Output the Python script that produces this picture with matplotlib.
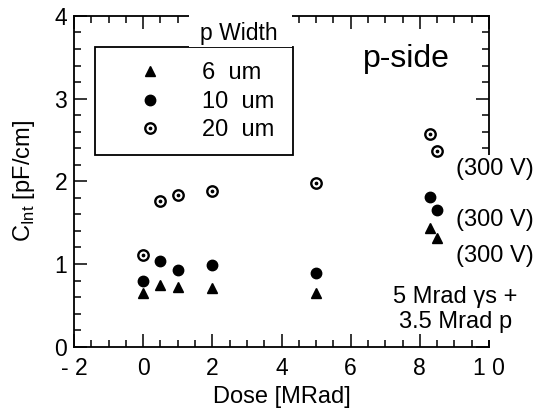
import matplotlib
matplotlib.use("Agg")
import matplotlib.pyplot as plt
from matplotlib.patches import Rectangle
from matplotlib.legend_handler import HandlerTuple
from matplotlib.ticker import MultipleLocator, FixedLocator

plt.rcParams['font.family'] = ['Liberation Sans', 'DejaVu Sans']

# Data
dose_6 = [0.0, 0.5, 1.0, 2.0, 5.0, 8.3, 8.5]
cint_6 = [0.65, 0.75, 0.72, 0.71, 0.645, 1.43, 1.31]
dose_10 = [0.0, 0.5, 1.0, 2.0, 5.0, 8.3, 8.5]
cint_10 = [0.79, 1.04, 0.93, 0.99, 0.895, 1.81, 1.65]
dose_20 = [0.0, 0.5, 1.0, 2.0, 5.0, 8.3, 8.5]
cint_20 = [1.11, 1.76, 1.83, 1.88, 1.98, 2.57, 2.37]

xticks = [-2, 0, 2, 4, 6, 8, 10]
xticklabels = ['- 2', '0', '2', '4', '6', '8', '1 0']
yticks = [0, 1, 2, 3, 4]
yticklabels = ['0', '1', '2', '3', '4']

fig = plt.figure(figsize=(5.38, 4.09), dpi=100)
ax = fig.add_axes([74/538, 1-346.7/409, 415/538, 330.8/409])

ms = 7.5
h6, = ax.plot(dose_6, cint_6, linestyle='none', marker='^', color='black', markersize=ms, zorder=3)
h10, = ax.plot(dose_10, cint_10, linestyle='none', marker='o', color='black', markersize=ms, zorder=3)
h20o, = ax.plot(dose_20, cint_20, linestyle='none', marker='o', markerfacecolor='white',
                markeredgecolor='black', markeredgewidth=1.7, markersize=ms, zorder=3)
h20d, = ax.plot(dose_20, cint_20, linestyle='none', marker='o', color='black', markersize=1.7, zorder=4)

ax.set_xlim(-2, 10)
ax.set_ylim(0, 4)
ax.xaxis.set_major_locator(FixedLocator(xticks))
ax.set_xticklabels(xticklabels)
ax.xaxis.set_minor_locator(MultipleLocator(0.5))
ax.yaxis.set_major_locator(FixedLocator(yticks))
ax.set_yticklabels(yticklabels)
ax.yaxis.set_minor_locator(MultipleLocator(0.2))
ax.tick_params(which='both', direction='in', top=True, right=True, width=1.1, labelsize=16.5)
ax.tick_params(which='major', length=9.5, pad=5)
ax.tick_params(axis='x', which='major', pad=7.5)
ax.tick_params(which='minor', length=4.8)
for s in ax.spines.values():
    s.set_linewidth(1.3)

ax.set_xlabel('Dose [MRad]', fontsize=17, labelpad=4)
ax.set_ylabel(r'C$_\mathregular{Int}$ [pF/cm]', fontsize=17)
ax.yaxis.set_label_coords(-0.09, 0.5)

# Legend frame (decoration)
fr = Rectangle((0.0506, 0.5795), 0.528-0.0506, 0.907-0.5795, transform=ax.transAxes,
               fill=False, edgecolor='black', linewidth=1.3, zorder=5, clip_on=False)
ax.add_patch(fr)

leg = ax.legend([h6, h10, (h20o, h20d)], ['6  um', '10  um', '20  um'],
                handler_map={tuple: HandlerTuple(ndivide=1, pad=0)},
                loc='upper left', bbox_to_anchor=(0.155, 0.86), frameon=False,
                fontsize=17, borderpad=0, borderaxespad=0, handlelength=1.0,
                handletextpad=1.7, labelspacing=0.28)
leg.set_zorder(8)

ax.text(0.80, 0.87, 'p-side', transform=ax.transAxes, fontsize=23, ha='center', va='center')

# Figure-level white masks (drawn above the axes) breaking the top and right spines
wm = Rectangle((0.277, 0.905), 0.528-0.277 - 0.003, 0.13, transform=ax.transAxes,
               facecolor='white', edgecolor='none', zorder=10)
fig.add_artist(wm)
rm = Rectangle((0.955, 0.02), 0.08, 0.56, transform=ax.transAxes,
               facecolor='white', edgecolor='none', zorder=10)
fig.add_artist(rm)

fig.text(0.397, 0.948, 'p Width', transform=ax.transAxes, fontsize=16.5,
         ha='center', va='center', zorder=11)
for yv in [2.15, 1.53, 1.10]:
    fig.text(10.17, yv, '(300 V)', transform=ax.transData, fontsize=17,
             ha='center', va='center', zorder=11)
fig.text(9.02, 0.60, '5 Mrad γs +', transform=ax.transData, fontsize=17,
         ha='center', va='center', zorder=11)
fig.text(9.02, 0.30, '3.5 Mrad p', transform=ax.transData, fontsize=17,
         ha='center', va='center', zorder=11)

fig.savefig('out.png', dpi=100)
